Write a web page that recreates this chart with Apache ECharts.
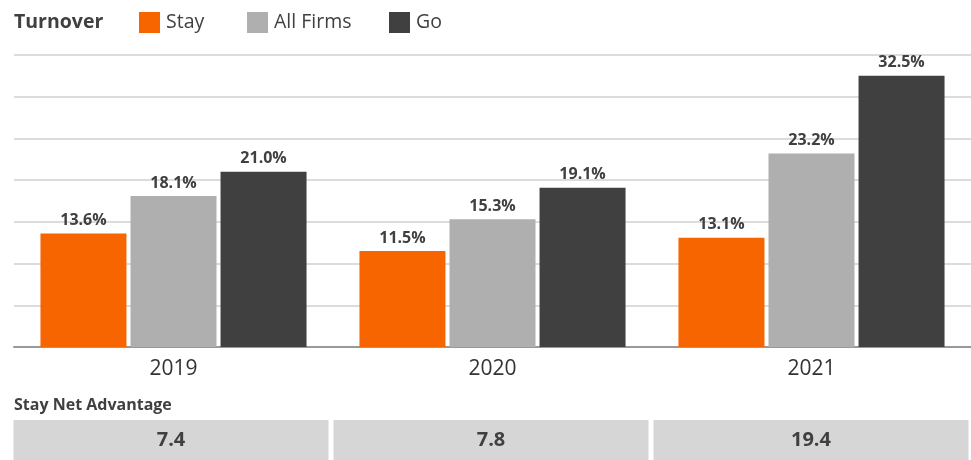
<!DOCTYPE html>
<html><head><meta charset="utf-8">
<script src="https://cdn.jsdelivr.net/npm/echarts@6/dist/echarts.min.js"></script>
<style>html,body{margin:0;padding:0;background:#fff}#c{width:971px;height:460px}</style>
</head><body><div id="c"></div>
<script>
const years = ['2019', '2020', '2021'];
const stay = [13.6, 11.5, 13.1];
const allFirms = [18.1, 15.3, 23.2];
const go = [21.0, 19.1, 32.5];
const netAdvantage = [7.4, 7.8, 19.4];
const seriesNames = ['Stay', 'All Firms', 'Go'];
const yTicks = [0, 5, 10, 15, 20, 25, 30, 35];

const FONT = '"Open Sans", sans-serif';
const TXT = '#404040';
const colors = ['#F76500', '#AFAFAF', '#404040'];

const chart = echarts.init(document.getElementById('c'), null, {renderer: 'canvas'});
const lbl = {show: true, position: 'top', distance: 5, color: TXT, fontFamily: FONT, fontWeight: 'bold', fontSize: 16,
  formatter: p => p.value.toFixed(1) + '%'};
function legend(name, left) {
  return {data: [name], left: left, top: 12, itemWidth: 21, itemHeight: 21, itemGap: 0, padding: 0,
    icon: 'rect', textStyle: {color: TXT, fontFamily: FONT, fontSize: 19.5, padding: [0, 0, 0, 1]}, selectedMode: false};
}
chart.setOption({
  animation: false,
  title: {text: 'Turnover', left: 14, top: 12, padding: 0,
    textStyle: {color: TXT, fontFamily: FONT, fontWeight: 'bold', fontSize: 19.5}},
  legend: [legend(seriesNames[0], 139), legend(seriesNames[1], 247), legend(seriesNames[2], 389)],
  graphic: [{type: 'text', left: 14, top: 397, style: {text: 'Stay Net Advantage', fill: TXT, font: 'bold 16px ' + FONT}}],
  grid: [
    {left: 14, right: 0, top: 55, bottom: 113, containLabel: false},
    {left: 11, right: -3, top: 420, height: 40, containLabel: false}
  ],
  xAxis: [
    {type: 'category', data: years, gridIndex: 0,
      axisLine: {lineStyle: {color: '#999', width: 2}}, axisTick: {show: false},
      axisLabel: {color: '#333', fontFamily: FONT, fontSize: 21, margin: 12}},
    {type: 'category', data: years, gridIndex: 1, show: false}
  ],
  yAxis: [
    {type: 'value', gridIndex: 0, min: yTicks[0], max: yTicks[yTicks.length - 1], interval: 5,
      axisLabel: {show: false}, axisLine: {show: false}, axisTick: {show: false},
      splitLine: {lineStyle: {color: '#DCDCDC', width: 2}}},
    {type: 'value', gridIndex: 1, min: 0, max: 1, show: false, splitLine: {show: false}}
  ],
  series: [
    {name: seriesNames[0], type: 'bar', data: stay, barWidth: 86, barGap: '4.7%', itemStyle: {color: colors[0]}, label: lbl},
    {name: seriesNames[1], type: 'bar', data: allFirms, barWidth: 86, barGap: '4.7%', itemStyle: {color: colors[1]}, label: lbl},
    {name: seriesNames[2], type: 'bar', data: go, barWidth: 86, barGap: '4.7%', itemStyle: {color: colors[2]}, label: lbl},
    {name: 'net', type: 'bar', xAxisIndex: 1, yAxisIndex: 1, data: netAdvantage.map(() => 1),
      barWidth: 315, itemStyle: {color: '#D6D6D6'}, silent: true,
      label: {show: true, position: 'inside', color: TXT, fontFamily: FONT, fontWeight: 'bold', fontSize: 20,
        formatter: p => netAdvantage[p.dataIndex].toFixed(1)}}
  ]
});
</script></body></html>
